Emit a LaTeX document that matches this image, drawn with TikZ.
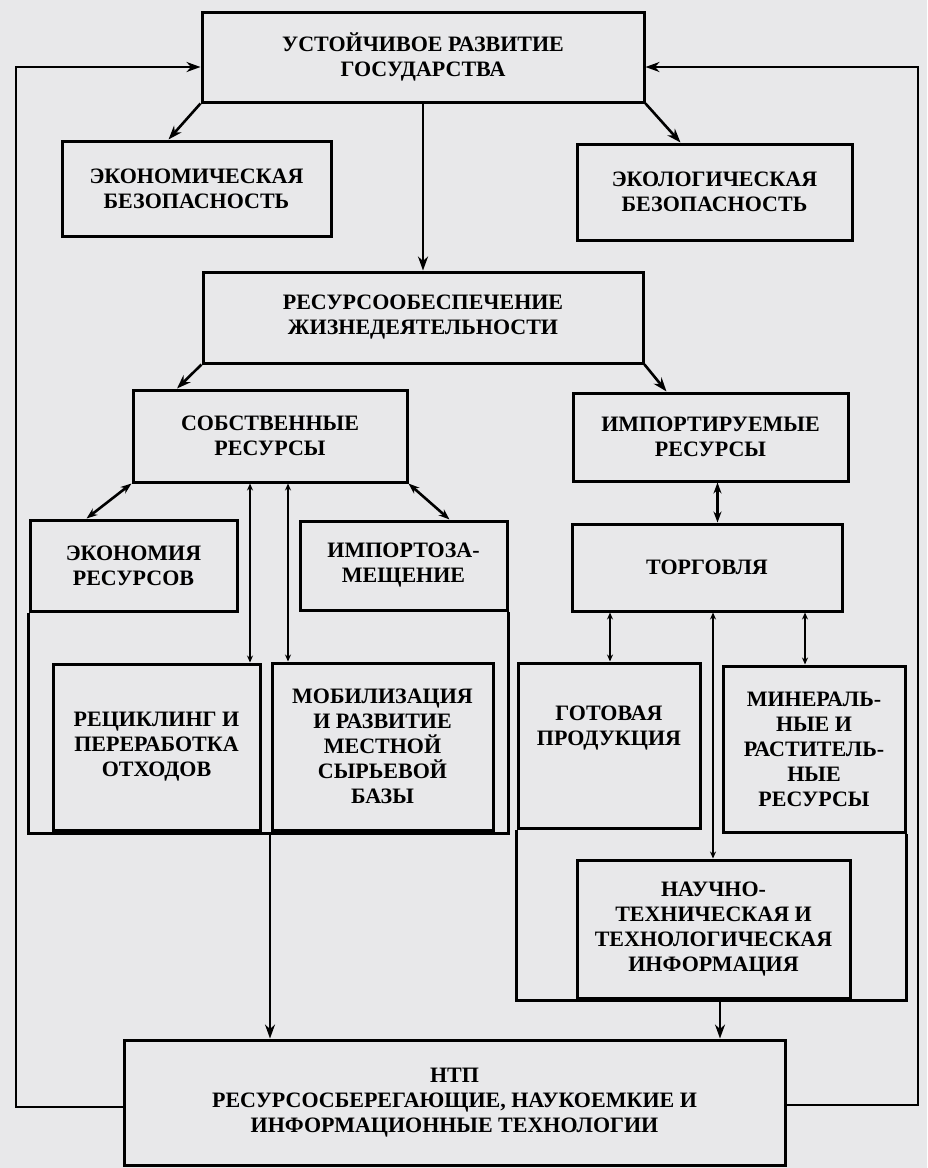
\documentclass[tikz,border=0pt]{standalone}
\usepackage{fontspec}
\setmainfont{Liberation Serif}
\usetikzlibrary{arrows.meta}
\definecolor{paper}{RGB}{232,232,234}

\begin{document}
\begin{tikzpicture}[x=1pt, y=-1pt, ->, >={Stealth[length=14pt,width=10pt]}, line width=2.6pt,
  box/.style={draw, line width=3pt, align=center, inner sep=2pt,
              font=\bfseries\fontsize{22}{25}\selectfont},
  frame/.style={-, line width=3pt},
  duo/.style={<->, line width=2pt, >={Stealth[length=7pt,width=6pt]}}]
  \fill[paper] (0,0) rectangle (927,1168);
  \useasboundingbox (0,0) rectangle (927,1168);

  \node[box, minimum width=442pt, minimum height=90pt]  (UR)  at (423,57)      {УСТОЙЧИВОЕ РАЗВИТИЕ\\ГОСУДАРСТВА};
  \node[box, minimum width=269pt, minimum height=95pt]  (EkB) at (196.5,188.5) {ЭКОНОМИЧЕСКАЯ\\БЕЗОПАСНОСТЬ};
  \node[box, minimum width=275pt, minimum height=96pt]  (ElB) at (714.5,192)   {ЭКОЛОГИЧЕСКАЯ\\БЕЗОПАСНОСТЬ};
  \node[box, minimum width=440pt, minimum height=91pt]  (RZ)  at (423,317.5)   {РЕСУРСООБЕСПЕЧЕНИЕ\\ЖИЗНЕДЕЯТЕЛЬНОСТИ};
  \node[box, minimum width=274pt, minimum height=92pt]  (SR)  at (270,436)     {СОБСТВЕННЫЕ\\РЕСУРСЫ};
  \node[box, minimum width=275pt, minimum height=88pt]  (IR)  at (710.5,437)   {ИМПОРТИРУЕМЫЕ\\РЕСУРСЫ};
  \node[box, minimum width=207pt, minimum height=91pt]  (ER)  at (133.5,565.5) {ЭКОНОМИЯ\\РЕСУРСОВ};
  \node[box, minimum width=207pt, minimum height=89pt]  (IZ)  at (403.5,565.5) {ИМПОРТОЗА-\\МЕЩЕНИЕ};
  \node[box, minimum width=270pt, minimum height=87pt]  (TG)  at (707,567.5)   {ТОРГОВЛЯ};
  \node[box, minimum width=207pt, minimum height=166pt] (RP)  at (156.5,747)   {РЕЦИКЛИНГ И\\ПЕРЕРАБОТКА\\ОТХОДОВ};
  \node[box, minimum width=221pt, minimum height=167pt] (MR)  at (382.5,746.5) {МОБИЛИЗАЦИЯ\\И РАЗВИТИЕ\\МЕСТНОЙ\\СЫРЬЕВОЙ\\БАЗЫ};
  \node[box, minimum width=182pt, minimum height=165pt] (GP)  at (609,745.5)   {ГОТОВАЯ\\ПРОДУКЦИЯ\\[14pt]};
  \node[box, minimum width=182pt, minimum height=166pt] (MI)  at (814,749)     {МИНЕРАЛЬ-\\НЫЕ И\\РАСТИТЕЛЬ-\\НЫЕ\\РЕСУРСЫ};
  \node[box, minimum width=273pt, minimum height=138pt] (NT)  at (713.5,929)   {НАУЧНО-\\ТЕХНИЧЕСКАЯ И\\ТЕХНОЛОГИЧЕСКАЯ\\ИНФОРМАЦИЯ};
  \node[box, minimum width=661pt, minimum height=125pt] (NTP) at (454.5,1102.5) {НТП\\РЕСУРСОСБЕРЕГАЮЩИЕ, НАУКОЕМКИЕ И\\ИНФОРМАЦИОННЫЕ ТЕХНОЛОГИИ};

  % frames round the lower groups
  \coordinate (frameA) at (270,833);
  \coordinate (frameB) at (720,1000);
  \draw[frame] (ER.south west) |- (frameA) -| (IZ.south east);
  \draw[frame] (GP.south west) |- (frameB) -| (MI.south east);

  \coordinate (SRa) at ([xshift=-20pt]SR.south);
  \coordinate (SRb) at ([xshift=18pt]SR.south);
  \coordinate (IRb) at ([xshift=7pt]IR.south);
  \coordinate (TGa) at ([xshift=-97pt]TG.south);
  \coordinate (TGb) at ([xshift=6pt]TG.south);
  \coordinate (TGc) at ([xshift=98pt]TG.south);

  \path (UR.south west) edge ([xshift=-28pt]EkB.north)
        (UR.south east) edge ([xshift=-34pt]ElB.north)
        (UR.south)      edge (UR.south |- RZ.north)
        (RZ.south west) edge ([xshift=-93pt]SR.north)
        (RZ.south east) edge ([xshift=-44pt]IR.north)
        (IRb)           edge [<->, >={Stealth[length=11pt,width=8pt]}] (IRb |- TG.north)
        (SR.south west) edge [<->, >={Stealth[length=11pt,width=8pt]}] ([xshift=-47pt]ER.north)
        (SR.south east) edge [<->, >={Stealth[length=11pt,width=8pt]}] ([xshift=46pt]IZ.north)
        (SRa)           edge [duo] (SRa |- RP.north)
        (SRb)           edge [duo] (SRb |- MR.north)
        (TGa)           edge [duo] (TGa |- GP.north)
        (TGb)           edge [duo] (TGb |- NT.north)
        (TGc)           edge [duo] (TGc |- MI.north)
        (frameA)        edge [line width=2pt] (frameA |- NTP.north)
        (frameB)        edge (frameB |- NTP.north);

  % feedback to the top
  \coordinate (retL) at (16,67);
  \coordinate (retR) at (918,67);
  \draw ([yshift=-4.5pt]NTP.west) -| (retL) -- (retL -| UR.west);
  \draw ([yshift=-2.5pt]NTP.east) -| (retR) -- (retR -| UR.east);
\end{tikzpicture}
\end{document}
